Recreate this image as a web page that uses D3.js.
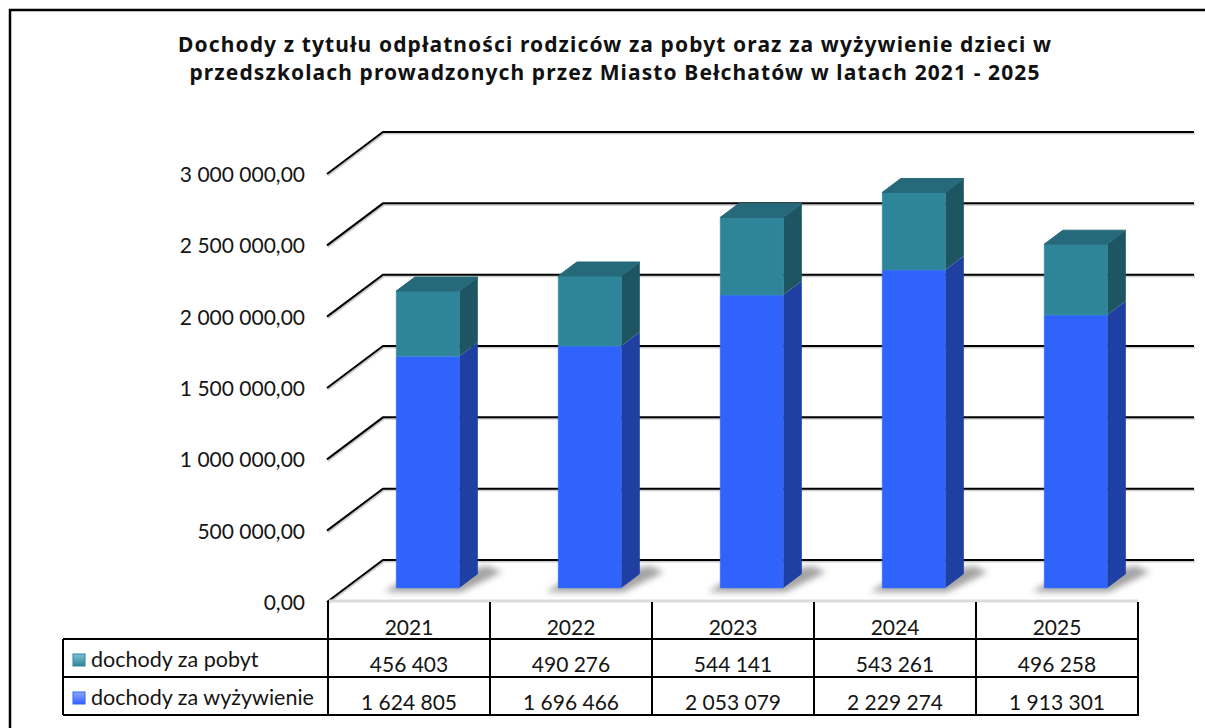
<!DOCTYPE html>
<html lang="pl">
<head>
  <meta charset="UTF-8">
  <title>Dochody przedszkola Bełchatów</title>
  <script src="https://cdn.jsdelivr.net/npm/d3@7"></script>
  <style>
    body { margin: 0; background: #fff; }
    text { font-family: Lato, "Noto Sans", sans-serif; fill: #141414; }
    .title { font-family: "Noto Sans", sans-serif; font-weight: bold; fill: #111; }
  </style>
</head>
<body>
<svg id="chart" width="1205" height="728"></svg>
<script>
  // dane z wykresu
  var years = ["2021", "2022", "2023", "2024", "2025"];
  var pobyt = [456403, 490276, 544141, 543261, 496258];
  var wyzywienie = [1624805, 1696466, 2053079, 2229274, 1913301];
  var yTicks = [0, 500000, 1000000, 1500000, 2000000, 2500000, 3000000];
  var seriesNames = ["dochody za pobyt", "dochody za wyżywienie"];
  var titleLines = [
    "Dochody z tytułu odpłatności rodziców za pobyt oraz za wyżywienie dzieci w",
    "przedszkolach prowadzonych przez Miasto Bełchatów w latach 2021 - 2025"
  ];

  var pl = d3.formatLocale({decimal: ",", thousands: " ", grouping: [3], currency: ["", " zł"]});
  var fmtAxis = pl.format(",.2f");
  var fmtVal = pl.format(",d");

  var svg = d3.select("#chart");
  var defs = svg.append("defs");
  defs.append("filter").attr("id", "blur").attr("x", "-50%").attr("y", "-50%").attr("width", "200%").attr("height", "200%")
    .append("feGaussianBlur").attr("stdDeviation", 3);

  // 3d rzut: głębokość ściany
  var depth = {x: 56, y: -42};
  var x = d3.scaleBand().domain(years).range([328, 1138]);
  var y = d3.scaleLinear().domain([0, 3000000]).range([602, 174]);
  var barW = 63;

  // ramka
  svg.append("rect").attr("x", 10).attr("y", 10).attr("width", 1230).attr("height", 740)
    .attr("fill", "none").attr("stroke", "#000").attr("stroke-width", 2.5);

  // tytuł
  var title = svg.append("g");
  title.selectAll("text").data(titleLines).enter().append("text")
    .attr("class", "title")
    .attr("x", 615).attr("y", function(d, i) { return 52 + i * 28; })
    .attr("text-anchor", "middle")
    .style("font-size", "21px")
    .text(function(d) { return d; });
  // rozstrzelenie liter, żeby pierwsza linia miała ~874px
  var t0 = title.select("text");
  var w0 = t0.node().getComputedTextLength();
  var ls = Math.max(0, (874 - w0) / titleLines[0].length);
  title.selectAll("text").style("letter-spacing", ls + "px");

  // linie siatki
  var grid = svg.append("g");
  yTicks.forEach(function(t) {
    var yy = y(t);
    var pts = [[327, yy], [327 + depth.x, yy + depth.y], [1194, yy + depth.y]];
    grid.append("path").attr("d", d3.line()(pts.map(function(p) { return [p[0] + 1, p[1] + 1.5]; })))
      .attr("fill", "none").attr("stroke", "#aaa").attr("stroke-width", 2).attr("opacity", 0.6);
    grid.append("path").attr("d", d3.line()(pts))
      .attr("fill", "none").attr("stroke", "#000").attr("stroke-width", 2);
  });

  // etykiety osi Y
  svg.append("g").selectAll("text").data(yTicks).enter().append("text")
    .attr("x", 305).attr("y", function(d) { return y(d); })
    .attr("dy", "0.38em")
    .attr("text-anchor", "end")
    .style("font-size", "21px")
    .text(function(d) { return fmtAxis(d); });

  // przednia krawędź podłogi
  svg.append("line").attr("x1", 329).attr("x2", 1138).attr("y1", 601).attr("y2", 601)
    .attr("stroke", "#dcdcdc").attr("stroke-width", 3);

  var fx = depth.x / 3, fy = depth.y / 3;
  var bars = years.map(function(yr, i) {
    var cx = x(yr) + x.bandwidth() / 2 + fx;
    return {yr: yr, x0: cx - barW / 2, x1: cx + barW / 2, a: wyzywienie[i], b: pobyt[i]};
  });

  // cienie na podłodze
  svg.append("g").selectAll("path").data(bars).enter().append("path")
    .attr("d", function(d) {
      var yb = y(0) + fy;
      return d3.line()([[d.x0 - 12, yb + 4], [d.x1 + 2, yb + 4], [d.x1 + fx + 24, yb + fy - 2],
        [d.x1 + fx + 10, yb + fy - 8], [d.x0 + 4, yb - 6]]) + "Z";
    })
    .attr("fill", "#666").attr("opacity", 0.6).attr("filter", "url(#blur)");

  function segment(g, d, v0, v1, cFront, cSide, cTop) {
    var yb = y(v0) + fy, yt = y(v1) + fy;
    g.append("path").attr("d", d3.line()([[d.x1, yb], [d.x1 + fx, yb + fy], [d.x1 + fx, yt + fy], [d.x1, yt]]) + "Z")
      .attr("fill", cSide);
    g.append("path").attr("d", d3.line()([[d.x0, yb], [d.x1, yb], [d.x1, yt], [d.x0, yt]]) + "Z")
      .attr("fill", cFront).attr("stroke", d3.color(cFront).brighter(0.5)).attr("stroke-width", 0.8).attr("stroke-opacity", 0.6);
    if (cTop) {
      g.append("path").attr("d", d3.line()([[d.x0, yt], [d.x1, yt], [d.x1 + fx, yt + fy], [d.x0 + fx, yt + fy]]) + "Z")
        .attr("fill", cTop).attr("stroke", cTop).attr("stroke-width", 1).attr("stroke-linejoin", "round");
    }
  }

  var barG = svg.append("g");
  bars.forEach(function(d) {
    var g = barG.append("g");
    segment(g, d, 0, d.a, "#3062fc", "#1f40a2", null);
    segment(g, d, d.a, d.a + d.b, "#2e8499", "#1e5563", "#25697a");
  });

  // tabela danych
  var tbl = svg.append("g");
  var rowY = [602, 639, 677, 715];
  var colX = years.map(function(yr) { return x(yr); }).concat([x.range()[1]]);
  var lineAttr = function(sel) { return sel.attr("stroke", "#000").attr("stroke-width", 2); };

  colX.forEach(function(cx) {
    lineAttr(tbl.append("line").attr("x1", cx).attr("x2", cx).attr("y1", rowY[0]).attr("y2", rowY[3]));
  });
  lineAttr(tbl.append("line").attr("x1", 63).attr("x2", 63).attr("y1", rowY[1]).attr("y2", rowY[3]));
  [1, 2, 3].forEach(function(r) {
    lineAttr(tbl.append("line").attr("x1", 63).attr("x2", colX[5] + 1).attr("y1", rowY[r]).attr("y2", rowY[r]));
  });

  tbl.selectAll("text.yr").data(years).enter().append("text").attr("class", "yr")
    .attr("x", function(d) { return x(d) + x.bandwidth() / 2; }).attr("y", 635)
    .attr("text-anchor", "middle").style("font-size", "21px").text(function(d) { return d; });

  [pobyt, wyzywienie].forEach(function(arr, r) {
    tbl.selectAll("text.v" + r).data(arr).enter().append("text").attr("class", "v" + r)
      .attr("x", function(d, i) { return x(years[i]) + x.bandwidth() / 2; })
      .attr("y", 672 + r * 38)
      .attr("text-anchor", "middle").style("font-size", "21px").text(function(d) { return fmtVal(d); });
  });

  // legenda w tabeli
  var legColors = [["#2e8499", "#7fc3d3"], ["#3062fc", "#8ea9ff"]];
  seriesNames.forEach(function(name, r) {
    var ly = rowY[r + 1];
    var gid = "lg" + r;
    var lg = defs.append("linearGradient").attr("id", gid).attr("x1", 0).attr("y1", 0).attr("x2", 0).attr("y2", 1);
    lg.append("stop").attr("offset", "0%").attr("stop-color", legColors[r][1]);
    lg.append("stop").attr("offset", "100%").attr("stop-color", legColors[r][0]);
    tbl.append("rect").attr("x", 73).attr("y", ly + 15).attr("width", 12).attr("height", 12)
      .attr("fill", "url(#" + gid + ")").attr("stroke", legColors[r][0]).attr("stroke-width", 1);
    tbl.append("text").attr("x", 91).attr("y", ly + 28).style("font-size", "21.5px").text(name);
  });
</script>
</body>
</html>
